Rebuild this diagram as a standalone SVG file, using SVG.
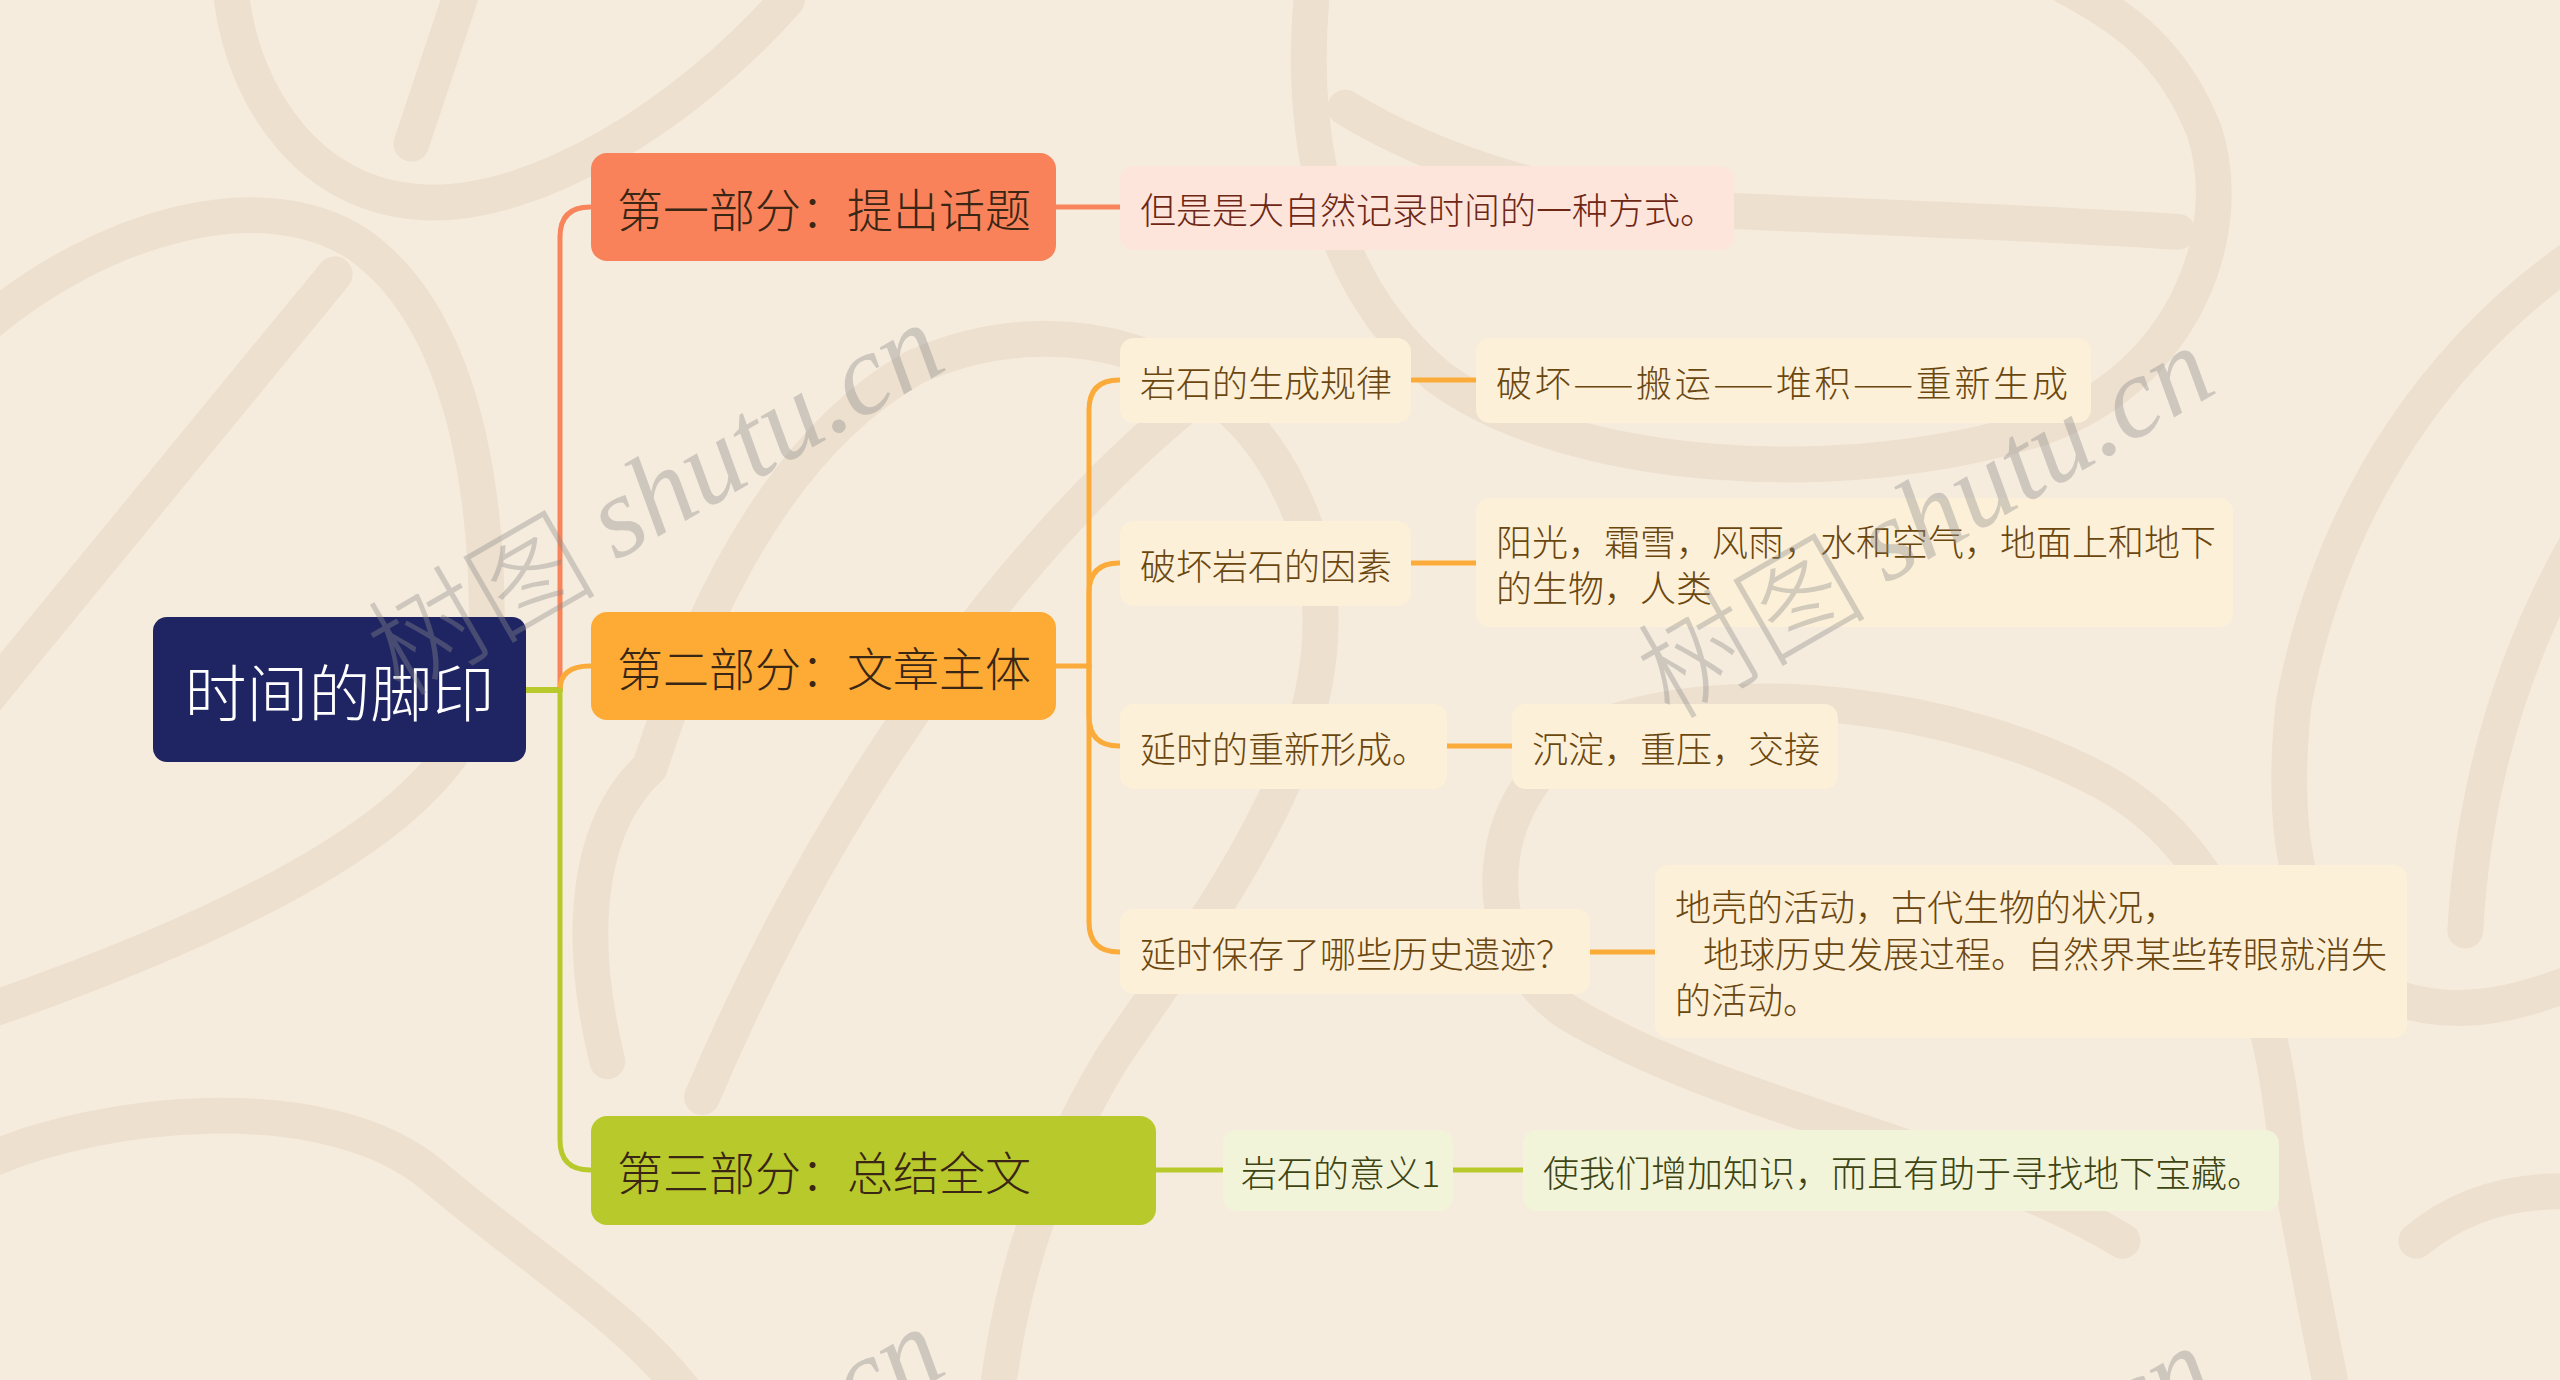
<svg xmlns="http://www.w3.org/2000/svg" width="2560" height="1380" viewBox="0 0 2560 1380">
<style>
.bg{fill:none;stroke:#eee0cf;stroke-width:22;stroke-linecap:round;stroke-linejoin:round}
.t{font-family:"Noto Sans CJK SC","Noto Sans",sans-serif;font-weight:300;dominant-baseline:central}
.l1{font-size:46px;fill:#3a2614}
.lf{font-size:36px}
.c1{fill:none;stroke:#f7845a;stroke-width:5;stroke-linecap:round}
.c2{fill:none;stroke:#fbab3a;stroke-width:5;stroke-linecap:round}
.c3{fill:none;stroke:#b8c92c;stroke-width:5;stroke-linecap:round}
.wm{font-size:115px;fill:#8c8c8c;fill-opacity:0.38}
.wi{font-family:"Liberation Serif",serif;font-style:italic}
</style>
<rect width="2560" height="1380" fill="#f6ecde"/>
<g id="background" transform="scale(1.63265)">
<path class="bg" d="M142,0 C150,60 190,122 262,124 C330,126 420,70 482,0"/>
<path class="bg" d="M283,-5 L252,88"/>
<path class="bg" d="M-10,200 C60,140 160,110 220,150 C290,200 300,320 298,400 C296,460 250,530 -10,620"/>
<path class="bg" d="M205,168 L-10,430"/>
<path class="bg" d="M372,650 C350,560 365,500 398,470 C430,370 480,270 560,225 C650,185 750,215 790,300 C820,360 810,420 790,470 C760,540 720,590 680,650 C650,700 620,770 610,860"/>
<path class="bg" d="M722,252 C640,320 520,460 430,672"/>
<path class="bg" d="M804,-10 C795,80 810,170 880,230 C960,290 1130,300 1250,262 C1340,230 1370,140 1350,80 C1330,30 1300,10 1262,-10"/>
<path class="bg" d="M824,66 C880,100 960,125 1034,128 C1120,132 1240,136 1334,142"/>
<path class="bg" d="M1580,155 C1500,210 1430,300 1405,430 C1395,520 1410,590 1470,612 C1510,625 1550,612 1580,600"/>
<path class="bg" d="M1580,330 C1540,400 1515,480 1510,570"/>
<path class="bg" d="M-10,712 C60,680 200,665 265,720 C330,775 390,810 425,860"/>
<path class="bg" d="M1300,760 C1200,700 1060,680 960,620 C900,580 905,480 980,445 C1060,415 1200,430 1290,480 C1360,520 1390,600 1400,700 C1410,760 1420,810 1430,860"/>
<path class="bg" d="M1480,760 C1510,735 1545,728 1580,730"/>
</g>
<g id="connectors">
<path class="c3" d="M526,690 H560" style="stroke-width:6"/>
<path class="c1" d="M560,690 V237 Q560,207 590,207"/>
<path class="c2" d="M560,690 Q560,666 590,666"/>
<path class="c3" d="M560,690 V1140 Q560,1170 590,1170"/>
<path class="c1" d="M1056,207 H1120"/>
<path class="c2" d="M1056,666 H1089"/>
<path class="c2" d="M1089,666 V410 Q1089,380 1119,380"/>
<path class="c2" d="M1089,666 V593 Q1089,563 1119,563"/>
<path class="c2" d="M1089,666 V716 Q1089,746 1119,746"/>
<path class="c2" d="M1089,666 V922 Q1089,952 1119,952"/>
<path class="c2" d="M1411,380 H1476"/>
<path class="c2" d="M1411,563 H1476"/>
<path class="c2" d="M1447,746 H1512"/>
<path class="c2" d="M1590,952 H1655"/>
<path class="c3" d="M1156,1170 H1223"/>
<path class="c3" d="M1453,1170 H1523"/>
</g>
<g id="root">
<rect x="153" y="617" width="373" height="145" rx="14" fill="#1f2463"/>
<text class="t" x="339.5" y="690" font-size="62" fill="#ffffff" text-anchor="middle">时间的脚印</text>
</g>
<g id="n1">
<rect x="591" y="153" width="465" height="108" rx="16" fill="#f9825a"/>
<text class="t l1" x="617" y="207">第一部分：提出话题</text>
</g>
<g id="n2">
<rect x="591" y="612" width="465" height="108" rx="16" fill="#fdab35"/>
<text class="t l1" x="617" y="666">第二部分：文章主体</text>
</g>
<g id="n3">
<rect x="591" y="1116" width="565" height="109" rx="16" fill="#b8c92b"/>
<text class="t l1" x="617" y="1170">第三部分：总结全文</text>
</g>
<g id="n1a">
<rect x="1120" y="166" width="614" height="84" rx="14" fill="#fde5dc"/>
<text class="t lf" x="1140" y="208" fill="#6e2714">但是是大自然记录时间的一种方式。</text>
</g>
<g id="n2a">
<rect x="1120" y="338" width="291" height="85" rx="14" fill="#fdf0d8"/>
<text class="t lf" x="1140" y="380.5" fill="#6b4710">岩石的生成规律</text>
</g>
<g id="n2a1">
<rect x="1476" y="338" width="615" height="85" rx="14" fill="#fdf0d8"/>
<text class="t lf" x="1496" y="380.5" fill="#6b4710" textLength="572" lengthAdjust="spacing">破坏——搬运——堆积——重新生成</text>
</g>
<g id="n2b">
<rect x="1120" y="521" width="291" height="85" rx="14" fill="#fdf0d8"/>
<text class="t lf" x="1140" y="563.5" fill="#6b4710">破坏岩石的因素</text>
</g>
<g id="n2b1">
<rect x="1476" y="498" width="757" height="129" rx="14" fill="#fdf0d8"/>
<text class="t lf" fill="#6b4710"><tspan x="1496" y="540">阳光，霜雪，风雨，水和空气，地面上和地下</tspan><tspan x="1496" y="586">的生物，人类</tspan></text>
</g>
<g id="n2c">
<rect x="1120" y="704" width="327" height="85" rx="14" fill="#fdf0d8"/>
<text class="t lf" x="1140" y="746.5" fill="#6b4710">延时的重新形成。</text>
</g>
<g id="n2c1">
<rect x="1512" y="704" width="326" height="85" rx="14" fill="#fdf0d8"/>
<text class="t lf" x="1532" y="746.5" fill="#6b4710">沉淀，重压，交接</text>
</g>
<g id="n2d">
<rect x="1120" y="909" width="470" height="85" rx="14" fill="#fdf0d8"/>
<text class="t lf" x="1140" y="951.5" fill="#6b4710">延时保存了哪些历史遗迹？</text>
</g>
<g id="n2d1">
<rect x="1655" y="865" width="752" height="173" rx="14" fill="#fdf0d8"/>
<text class="t lf" fill="#6b4710"><tspan x="1675" y="905">地壳的活动，古代生物的状况，</tspan><tspan x="1703" y="952">地球历史发展过程。自然界某些转眼就消失</tspan><tspan x="1675" y="998">的活动。</tspan></text>
</g>
<g id="n3a">
<rect x="1223" y="1130" width="230" height="81" rx="14" fill="#f1f4d9"/>
<text class="t lf" x="1241" y="1170.5" fill="#3e4412">岩石的意义1</text>
</g>
<g id="n3a1">
<rect x="1523" y="1130" width="756" height="81" rx="14" fill="#f1f4d9"/>
<text class="t lf" x="1543" y="1170.5" fill="#3e4412">使我们增加知识，而且有助于寻找地下宝藏。</text>
</g>
<g id="watermarks" class="t wm">
<text transform="translate(375,655) rotate(-30)">树图 <tspan class="wi">shutu.cn</tspan></text>
<text transform="translate(1645,678) rotate(-30)">树图 <tspan class="wi">shutu.cn</tspan></text>
<text transform="translate(375,1659) rotate(-30)">树图 <tspan class="wi">shutu.cn</tspan></text>
<text transform="translate(1645,1678) rotate(-30)">树图 <tspan class="wi">shutu.cn</tspan></text>
</g>
</svg>
